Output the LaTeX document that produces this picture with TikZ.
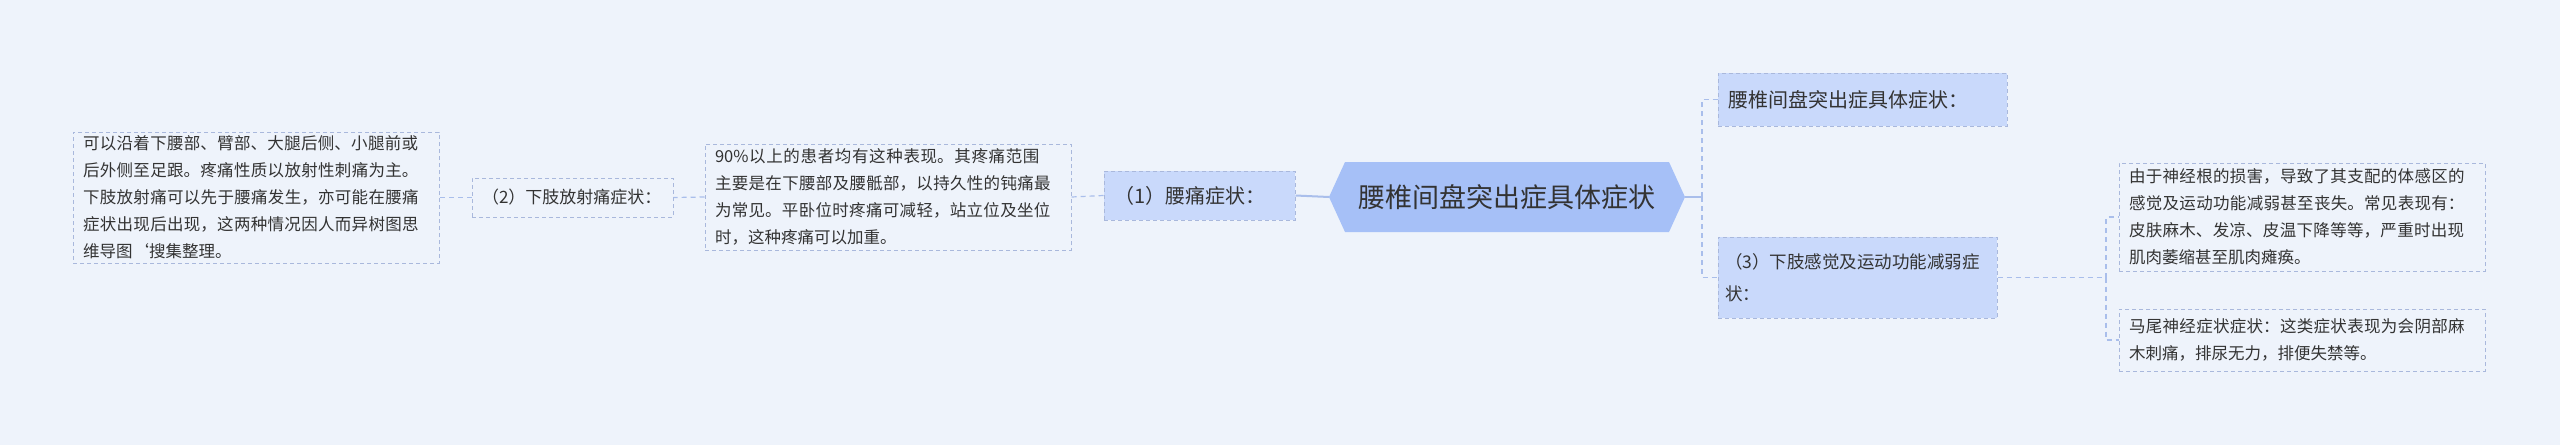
\documentclass[tikz,border=0pt]{standalone}
\usepackage{fontspec}
\setmainfont{Noto Sans CJK SC}
\XeTeXlinebreaklocale "zh"
\XeTeXlinebreakskip=0pt plus 1pt
\usetikzlibrary{calc}
\definecolor{bg}{HTML}{EEF3FB}
\definecolor{rootc}{HTML}{A6C0F7}
\definecolor{brc}{HTML}{C9D9FB}
\definecolor{bdr}{HTML}{A9B8DC}
\definecolor{lnc}{HTML}{A9BEEB}
\definecolor{txt}{HTML}{333333}
\tikzset{
 x=1pt,y=-1pt,
 detail/.style={draw=bdr,dashed,line width=1pt,dash pattern=on 4pt off 3pt,text=txt,align=left,inner sep=0pt,font=\fontsize{16.5}{27}\selectfont},
 branch/.style={draw=bdr,dashed,line width=1pt,dash pattern=on 4pt off 3pt,fill=brc,text=txt,align=left,inner sep=0pt,font=\fontsize{20}{32}\selectfont},
 conn/.style={draw=lnc,line width=1.2pt,dashed,dash pattern=on 5pt off 4pt},
 solidconn/.style={draw=lnc,line width=2pt},
}
\begin{document}
\begin{tikzpicture}
\fill[bg] (0,0) rectangle (2560,445);
\useasboundingbox (0,0) rectangle (2560,445);
% root
\fill[rootc] (1329,197) -- (1345,162) -- (1669,162) -- (1685,197) -- (1669,232) -- (1345,232) -- cycle;
\node[text=txt,font=\fontsize{27}{32}\selectfont] (root) at (1507,197) {腰椎间盘突出症具体症状};
\coordinate (rootL) at (1329,197);
\coordinate (rootR) at (1685,197);
% right branches
\node[branch,minimum width=289,minimum height=53,text width=269] (b0) at (1862.5,99.5) {腰椎间盘突出症具体症状：};
\node[branch,minimum width=279,minimum height=81,text width=265,font=\fontsize{17.5}{32}\selectfont] (b3) at (1857.5,277.5) {（3）下肢感觉及运动功能减弱症\\状：};
\node[detail,minimum width=366,minimum height=108,text width=346] (d1) at (2302,217) {由于神经根的损害，导致了其支配的体感区的感觉及运动功能减弱甚至丧失。常见表现有：皮肤麻木、发凉、皮温下降等等，严重时出现肌肉萎缩甚至肌肉瘫痪。};
\node[detail,minimum width=366,minimum height=62,text width=346] (d2) at (2302,340) {马尾神经症状症状：这类症状表现为会阴部麻木刺痛，排尿无力，排便失禁等。};
% left branches
\node[branch,minimum width=191,minimum height=49,text width=171] (b1) at (1199.5,195.5) {（1）腰痛症状：};
\node[detail,minimum width=366,minimum height=106,text width=346] (t1) at (888,197) {90\%以上的患者均有这种表现。其疼痛范围主要是在下腰部及腰骶部，以持久性的钝痛最为常见。平卧位时疼痛可减轻，站立位及坐位时，这种疼痛可以加重。};
\node[detail,minimum width=201,minimum height=39,text width=181,font=\fontsize{17}{27}\selectfont] (b2) at (572.5,197.5) {（2）下肢放射痛症状：};
\node[detail,minimum width=366,minimum height=131,text width=346] (t2) at (256,197.5) {可以沿着下腰部、臂部、大腿后侧、小腿前或后外侧至足跟。疼痛性质以放射性刺痛为主。下肢放射痛可以先于腰痛发生，亦可能在腰痛症状出现后出现，这两种情况因人而异树图思维导图`搜集整理。};
% connectors
\draw[solidconn] (rootL) -- (b1.east);
\draw[conn] (b1.west) -- (t1.east);
\draw[conn] (t1.west) -- (b2.east);
\draw[conn] (b2.west) -- (t2.east);
\coordinate (sp) at (1702,197);
\draw[solidconn] (rootR) -- (sp);
\draw[conn] (sp) |- (b0.west);
\draw[conn] (sp) |- (b3.west);
\coordinate (sp2) at (2106,277.5);
\draw[conn] (b3.east) -- (sp2);
\draw[conn] (sp2) |- (d1.west);
\draw[conn] (sp2) |- (d2.west);
\end{tikzpicture}
\end{document}
